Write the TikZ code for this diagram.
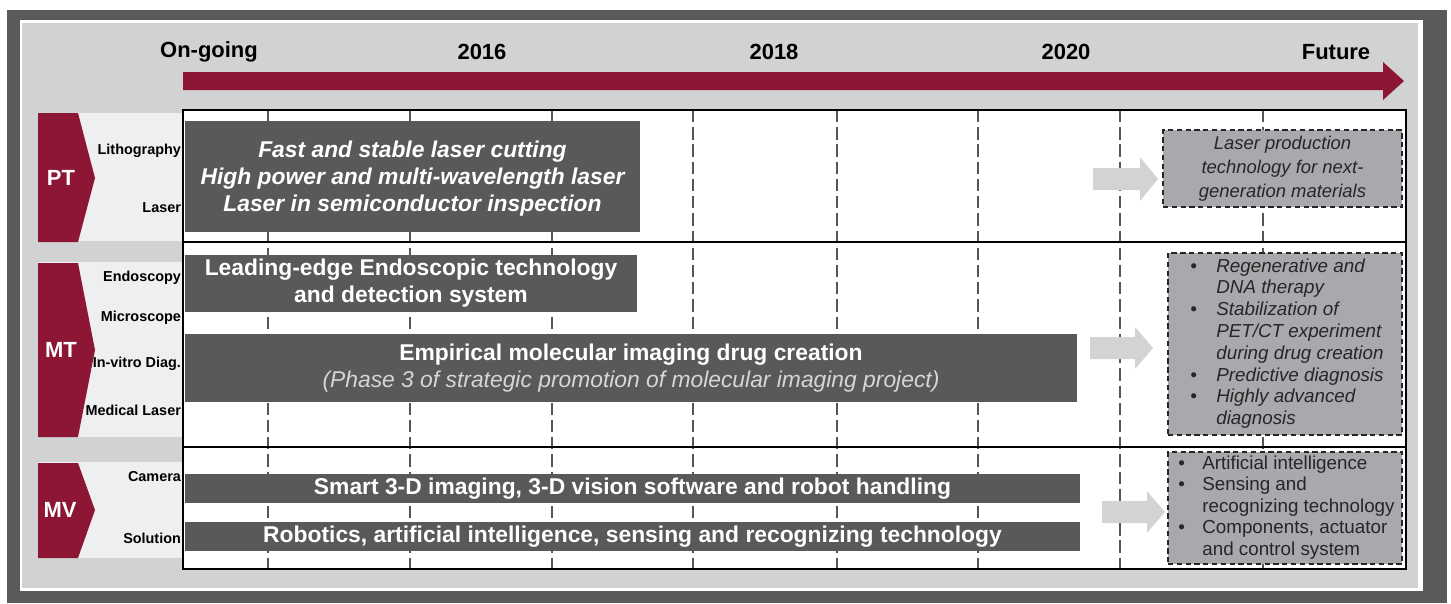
\documentclass[tikz,border=0pt]{standalone}
\usepackage{fontspec}
\setmainfont{Liberation Sans}
\usepackage{tikz}
\usetikzlibrary{fit}

\definecolor{framegray}{HTML}{595A5C}
\definecolor{panelgray}{HTML}{D1D2D4}
\definecolor{tagred}{HTML}{8C1634}
\definecolor{tagpanel}{HTML}{EEEFF0}
\definecolor{boxgray}{HTML}{58595B}
\definecolor{futgray}{HTML}{A7A9AC}
\definecolor{arrowgray}{HTML}{D3D3D3}
\definecolor{gridgray}{HTML}{5B5352}
\definecolor{subgray}{HTML}{D6D6D6}

\begin{document}
\begin{tikzpicture}[
        x=0.02cm, y=-0.02cm, % one unit is one pixel of the layout
        yearlabel/.style={font=\bfseries\fontsize{12.5}{15}\selectfont},
        tagname/.style={text=white, font=\bfseries\fontsize{12.5}{15}\selectfont},
        sublabel/.style={anchor=east, inner sep=1pt, font=\bfseries\fontsize{8.2}{10}\selectfont},
        darkbox/.style={fill=boxgray, inner sep=0pt},
        boxtext/.style={text=white, inner sep=0pt, align=center, font=\bfseries\fontsize{13}{15.3}\selectfont},
        futbox/.style={fill=futgray, draw=black!85, line width=0.9pt, dash pattern=on 3pt off 2pt, inner sep=0pt},
        futtext/.style={text=black!85, inner sep=0pt},
        gridline/.style={draw=gridgray, line width=1.1pt, dash pattern=on 7pt off 2.8pt},
    ]
    \useasboundingbox (0,0) rectangle (1451,603);

    % Frame and panel
    \fill[white] (0,0) rectangle (1451,603);
    \fill[framegray] (7,10) rectangle (1447,603);
    \fill[white] (20,20) rectangle (1423,591);
    \fill[panelgray] (22,23) rectangle (1418,588);

    % Timeline
    \node[yearlabel] (ongoing) at (209,52) {On-going};
    \node[yearlabel] (y2016) at (482,52) {2016};
    \node[yearlabel] (y2018) at (774,52) {2018};
    \node[yearlabel] (y2020) at (1066,52) {2020};
    \node[yearlabel] (future) at (1336,52) {Future};
    \fill[tagred] (183,72) -- (1383,72) -- (1383,62) -- (1404,81) -- (1383,100) -- (1383,90) -- (183,90) -- cycle;

    % Row tags
    \fill[tagpanel] (38,113) rectangle (183,241);
    \fill[tagpanel] (38,262) rectangle (183,437);
    \fill[tagpanel] (38,462) rectangle (183,558);
    \fill[tagred] (38,113) -- (78,113) -- (95,178) -- (78,242) -- (38,242) -- cycle;
    \fill[tagred] (38,263) -- (78,263) -- (95,350) -- (78,437) -- (38,437) -- cycle;
    \fill[tagred] (38,463) -- (78,463) -- (95,510) -- (78,558) -- (38,558) -- cycle;
    \node[tagname] (pt) at (61,178) {PT};
    \node[tagname] (mt) at (61,350) {MT};
    \node[tagname] (mv) at (60,510) {MV};

    \node[sublabel] (litho) at (183,151) {Lithography};
    \node[sublabel] (laser) at (183,208) {Laser};
    \node[sublabel] (endo) at (183,278) {Endoscopy};
    \node[sublabel] (micro) at (183,318) {Microscope};
    \node[sublabel] (vitro) at (183,364) {In-vitro Diag.};
    \node[sublabel] (medlaser) at (183,410) {Medical Laser};
    \node[sublabel] (camera) at (183,477) {Camera};
    \node[sublabel] (solution) at (183,538) {Solution};

    % Table
    \fill[white] (183,110) rectangle (1406,569);
    \foreach \x in {268,410,552,693,837,978,1120,1263}
        \draw[gridline] (\x,110) -- (\x,569);
    \draw[line width=0.9pt] (183,110) rectangle (1406,569);
    \draw[line width=0.9pt] (183,242) -- (1406,242);
    \draw[line width=0.9pt] (183,447) -- (1406,447);

    % On-going work
    \node[darkbox, fit={(185,121) (640,232)}] (ptbox) {};
    \node[boxtext, font=\bfseries\itshape\fontsize{13}{15.3}\selectfont] (ptboxtext) at ([yshift=-0.04cm]ptbox.center)
        {Fast and stable laser cutting\\High power and multi-wavelength laser\\Laser in semiconductor inspection};
    \node[darkbox, fit={(185,255) (637,312)}] (mtboxa) {};
    \node[boxtext] (mtboxatext) at (mtboxa) {Leading-edge Endoscopic technology\\and detection system};
    \node[darkbox, fit={(185,334) (1077,402)}] (mtboxb) {};
    \node[boxtext] (mtboxbtext) at (mtboxb)
        {Empirical molecular imaging drug creation\\{\mdseries\itshape\color{subgray}(Phase 3 of strategic promotion of molecular imaging project)}};
    \node[darkbox, fit={(185,474) (1080,503)}] (mvboxa) {};
    \node[boxtext] (mvboxatext) at (mvboxa) {Smart 3-D imaging, 3-D vision software and robot handling};
    \node[darkbox, fit={(185,522) (1080,551)}] (mvboxb) {};
    \node[boxtext] (mvboxbtext) at (mvboxb) {Robotics, artificial intelligence, sensing and recognizing technology};

    % Arrows to the future
    \fill[arrowgray] (1093,168) -- (1140,168) -- (1140,157) -- (1158,179) -- (1140,201) -- (1140,190) -- (1093,190) -- cycle;
    \fill[arrowgray] (1090,337) -- (1135,337) -- (1135,327) -- (1153,348) -- (1135,369) -- (1135,359) -- (1090,359) -- cycle;
    \fill[arrowgray] (1102,501) -- (1147,501) -- (1147,491) -- (1165,512) -- (1147,533) -- (1147,523) -- (1102,523) -- cycle;

    % Future
    \node[futbox, fit={(1163,130) (1402,207)}] (ptfut) {};
    \node[futtext, align=center, font=\itshape\fontsize{10.5}{13.6}\selectfont] (ptfuttext) at (ptfut)
        {Laser production\\technology for next-\\generation materials};

    \node[futbox, fit={(1168,253) (1402,435)}] (mtfut) {};
    \node[futtext, anchor=west, font=\itshape\fontsize{10.7}{12.4}\selectfont] (mtfuttext) at (1190,344)
        {\begin{tabular}{@{}p{0.52cm}@{}l@{}}
        \textbullet & Regenerative and\\
         & DNA therapy\\
        \textbullet & Stabilization of\\
         & PET/CT experiment\\
         & during drug creation\\
        \textbullet & Predictive diagnosis\\
        \textbullet & Highly advanced\\
         & diagnosis
        \end{tabular}};

    \node[futbox, fit={(1168,452) (1402,564)}] (mvfut) {};
    \node[futtext, anchor=west, font=\fontsize{10.7}{12.2}\selectfont] (mvfuttext) at (1178,508)
        {\begin{tabular}{@{}p{0.48cm}@{}l@{}}
        \textbullet & Artificial intelligence\\
        \textbullet & Sensing and\\
         & recognizing technology\\
        \textbullet & Components, actuator\\
         & and control system
        \end{tabular}};
\end{tikzpicture}
\end{document}
